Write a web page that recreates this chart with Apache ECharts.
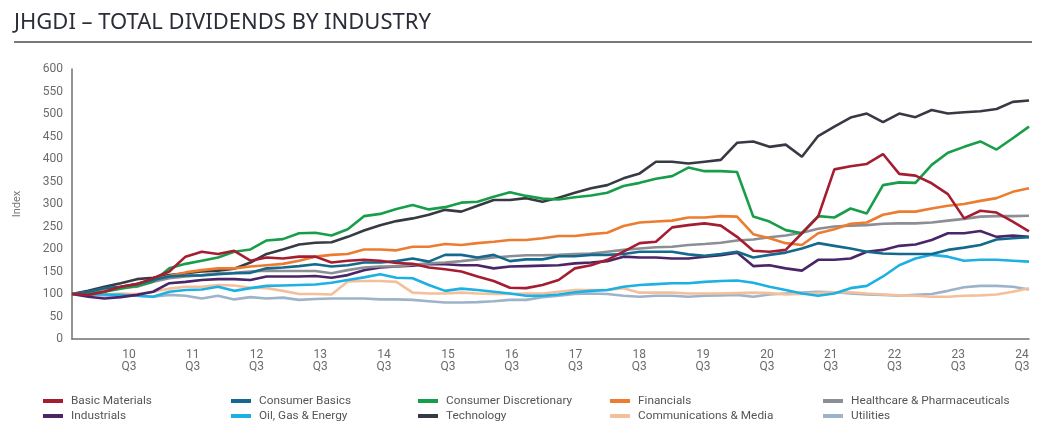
<!DOCTYPE html>
<html>
<head>
<meta charset="utf-8">
<script src="https://cdn.jsdelivr.net/npm/echarts@6/dist/echarts.min.js"></script>
<style>
html, body { margin: 0; padding: 0; background: #fff; }
#chart { width: 1040px; height: 428px; }
</style>
</head>
<body>
<div id="chart"></div>
<script>
// quarterly index, 2009 Q4 = 100
var quarters = [
    '09 Q4',
    '10 Q1', '10 Q2', '10 Q3', '10 Q4', '11 Q1', '11 Q2', '11 Q3', '11 Q4',
    '12 Q1', '12 Q2', '12 Q3', '12 Q4', '13 Q1', '13 Q2', '13 Q3', '13 Q4',
    '14 Q1', '14 Q2', '14 Q3', '14 Q4', '15 Q1', '15 Q2', '15 Q3', '15 Q4',
    '16 Q1', '16 Q2', '16 Q3', '16 Q4', '17 Q1', '17 Q2', '17 Q3', '17 Q4',
    '18 Q1', '18 Q2', '18 Q3', '18 Q4', '19 Q1', '19 Q2', '19 Q3', '19 Q4',
    '20 Q1', '20 Q2', '20 Q3', '20 Q4', '21 Q1', '21 Q2', '21 Q3', '21 Q4',
    '22 Q1', '22 Q2', '22 Q3', '22 Q4', '23 Q1', '23 Q2', '23 Q3', '23 Q4',
    '24 Q1', '24 Q2', '24 Q3'
];

// tick labels shown under the axis
var yearTicks = ['10\nQ3', '11\nQ3', '12\nQ3', '13\nQ3', '14\nQ3', '15\nQ3', '16\nQ3', '17\nQ3',
    '18\nQ3', '19\nQ3', '20\nQ3', '21\nQ3', '22\nQ3', '23\nQ3', '24\nQ3'];

var basicMaterials = [
    100, 98, 105, 116, 122, 135, 150, 183, 194, 189,
    196, 174, 181, 179, 183, 183, 170, 174, 176, 174,
    169, 167, 159, 155, 150, 139, 129, 114, 113, 120,
    131, 157, 164, 176, 194, 213, 216, 248, 253, 257,
    252, 227, 196, 194, 198, 235, 272, 377, 384, 389,
    411, 367, 363, 346, 322, 268, 285, 281, 261, 239
];
var consumerBasics = [
    100, 105, 113, 116, 122, 131, 139, 141, 141, 144,
    146, 147, 157, 159, 162, 166, 161, 164, 170, 170,
    173, 179, 172, 187, 187, 181, 187, 173, 177, 177,
    184, 184, 187, 187, 189, 194, 194, 194, 188, 185,
    189, 194, 181, 187, 192, 201, 213, 207, 201, 194,
    190, 189, 189, 189, 198, 203, 209, 221, 224, 226
];
var consumerDiscretionary = [
    100, 101, 105, 112, 118, 127, 157, 167, 174, 181,
    194, 199, 219, 222, 235, 236, 230, 244, 273, 278,
    289, 298, 288, 293, 303, 305, 316, 326, 318, 312,
    310, 315, 319, 325, 340, 347, 356, 362, 381, 373,
    373, 371, 272, 261, 242, 235, 273, 270, 290, 279,
    342, 348, 347, 387, 414, 427, 439, 421, 446, 472
];
var financials = [
    100, 103, 108, 115, 123, 131, 140, 148, 153, 157,
    157, 161, 164, 167, 174, 183, 187, 189, 199, 199,
    197, 205, 205, 211, 209, 213, 216, 220, 220, 224,
    229, 229, 233, 236, 251, 259, 261, 263, 270, 270,
    273, 272, 233, 224, 213, 209, 235, 244, 256, 259,
    276, 283, 283, 290, 296, 300, 307, 313, 327, 335
];
var healthcare = [
    100, 103, 112, 114, 116, 127, 135, 139, 142, 146,
    147, 150, 152, 151, 151, 151, 146, 153, 159, 161,
    161, 165, 168, 170, 173, 177, 181, 184, 186, 186,
    187, 189, 190, 194, 198, 201, 204, 205, 209, 211,
    214, 219, 221, 226, 230, 236, 245, 250, 252, 253,
    256, 257, 257, 259, 263, 267, 272, 273, 273, 274
];
var industrials = [
    100, 94, 90, 93, 98, 105, 124, 127, 131, 133,
    133, 131, 139, 139, 139, 140, 136, 142, 153, 159,
    161, 163, 167, 166, 164, 164, 157, 161, 162, 163,
    164, 168, 170, 173, 183, 181, 181, 179, 179, 183,
    186, 192, 162, 164, 157, 152, 176, 176, 179, 194,
    198, 207, 210, 220, 235, 235, 240, 227, 230, 227
];
var oilGasEnergy = [
    100, 99, 99, 98, 96, 94, 105, 109, 110, 116,
    107, 113, 118, 119, 120, 121, 125, 131, 137, 144,
    136, 135, 120, 107, 112, 109, 105, 101, 96, 96,
    99, 104, 107, 109, 116, 120, 122, 124, 124, 127,
    129, 130, 125, 116, 109, 101, 96, 101, 113, 118,
    139, 164, 179, 187, 183, 174, 176, 176, 174, 172
];
var technology = [
    100, 107, 116, 124, 133, 136, 142, 146, 150, 152,
    156, 170, 189, 199, 210, 214, 215, 227, 241, 253,
    262, 268, 276, 287, 283, 296, 309, 309, 313, 305,
    314, 325, 335, 342, 357, 368, 394, 394, 390, 394,
    398, 436, 439, 427, 432, 405, 451, 472, 492, 501,
    482, 501, 493, 509, 501, 504, 506, 511, 527, 530
];
var communications = [
    100, 98, 99, 101, 100, 105, 112, 116, 116, 120,
    119, 114, 113, 107, 100, 100, 99, 128, 129, 129,
    127, 103, 101, 101, 103, 101, 100, 100, 101, 101,
    105, 109, 109, 109, 113, 103, 103, 103, 101, 101,
    101, 102, 103, 102, 99, 100, 102, 104, 104, 101,
    99, 97, 96, 94, 94, 96, 97, 99, 105, 113
];
var utilities = [
    100, 99, 97, 96, 96, 94, 98, 96, 90, 96,
    88, 93, 90, 92, 87, 89, 90, 90, 90, 88,
    88, 87, 84, 81, 81, 82, 84, 87, 87, 93,
    96, 100, 101, 100, 96, 94, 96, 96, 94, 96,
    97, 98, 94, 99, 101, 103, 105, 104, 101, 99,
    98, 96, 98, 100, 107, 115, 118, 118, 116, 110
];

var industries = [
    { name: 'Basic Materials', color: '#a51d31', data: basicMaterials },
    { name: 'Consumer Basics', color: '#15698d', data: consumerBasics },
    { name: 'Consumer Discretionary', color: '#189d4a', data: consumerDiscretionary },
    { name: 'Financials', color: '#ec7c30', data: financials },
    { name: 'Healthcare & Pharmaceuticals', color: '#8b8e94', data: healthcare },
    { name: 'Industrials', color: '#4a2568', data: industrials },
    { name: 'Oil, Gas & Energy', color: '#1db0e2', data: oilGasEnergy },
    { name: 'Technology', color: '#373a43', data: technology },
    { name: 'Communications & Media', color: '#f4c09b', data: communications },
    { name: 'Utilities', color: '#9db3c9', data: utilities }
];

// legend laid out in five columns of two
var legendColumns = [
    ['Basic Materials', 'Industrials'],
    ['Consumer Basics', 'Oil, Gas & Energy'],
    ['Consumer Discretionary', 'Technology'],
    ['Financials', 'Communications & Media'],
    ['Healthcare & Pharmaceuticals', 'Utilities']
];
var legendLeft = [43, 231, 418, 610, 823];

var series = industries.slice().reverse().map(function(item) {
    return {
        name: item.name,
        type: 'line',
        data: item.data,
        showSymbol: false,
        symbol: 'none',
        color: item.color,
        lineStyle: { width: 2.6, color: item.color },
        emphasis: { disabled: true }
    };
});

var legends = legendColumns.map(function(col, i) {
    return {
        orient: 'vertical',
        left: legendLeft[i],
        top: 394,
        padding: 0,
        itemWidth: 20,
        itemHeight: 4,
        itemGap: 1,
        icon: 'rect',
        selectedMode: false,
        textStyle: {
            fontFamily: 'Roboto',
            fontSize: 11.8,
            color: '#555',
            lineHeight: 14,
            padding: [0, 0, 0, 3]
        },
        data: col
    };
});

var chart = echarts.init(document.getElementById('chart'));
chart.setOption({
    animation: false,
    textStyle: { fontFamily: 'Roboto' },
    title: {
        text: 'JHGDI – TOTAL DIVIDENDS BY INDUSTRY',
        left: 14,
        top: 12,
        padding: 0,
        textStyle: {
            fontFamily: 'Noto Sans',
            fontSize: 22,
            fontWeight: 'normal',
            color: '#2b2d38'
        }
    },
    graphic: [{
        type: 'line',
        shape: { x1: 14, y1: 42, x2: 1032, y2: 42 },
        style: { stroke: '#4d4d4d', lineWidth: 1.5 }
    }],
    legend: legends,
    grid: { left: 72, right: 11, top: 69, bottom: 89 },
    xAxis: [{
        type: 'category',
        data: quarters,
        boundaryGap: false,
        position: 'bottom',
        axisLine: { lineStyle: { color: '#707070', width: 1.5 } },
        axisTick: { show: false },
        axisLabel: { show: false },
        splitLine: { show: false }
    }, {
        type: 'category',
        data: yearTicks,
        boundaryGap: true,
        position: 'bottom',
        axisLine: { show: false },
        axisTick: { show: false },
        splitLine: { show: false },
        axisLabel: {
            color: '#6b6b6b',
            fontSize: 12,
            lineHeight: 12,
            margin: 10,
            interval: 0,
            padding: [0, 0, 0, 50]
        }
    }],
    yAxis: {
        type: 'value',
        min: 0,
        max: 600,
        interval: 50,
        name: 'Index',
        nameLocation: 'middle',
        nameGap: 49,
        nameTextStyle: { color: '#777', fontSize: 11 },
        axisLine: { show: true, lineStyle: { color: '#707070', width: 1.5 } },
        axisTick: { show: false },
        splitLine: { show: false },
        axisLabel: { color: '#6b6b6b', fontSize: 12, margin: 9 }
    },
    series: series
});
</script>
</body>
</html>
